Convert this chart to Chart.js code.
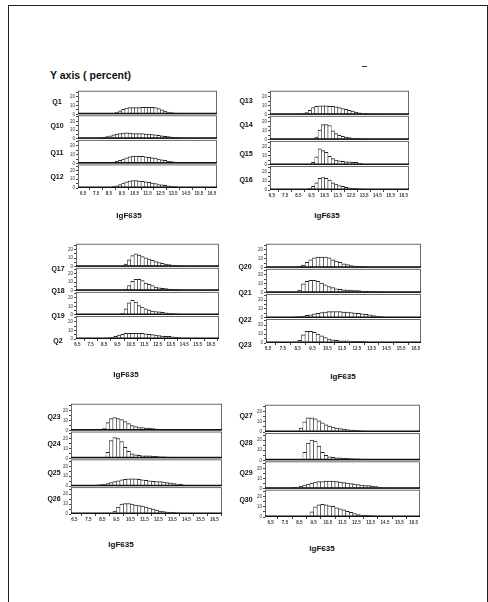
<!DOCTYPE html>
<html>
<head>
<meta charset="utf-8">
<script src="https://cdn.jsdelivr.net/npm/chart.js@4.4.1/dist/chart.umd.min.js"></script>
<style>
  html, body { margin: 0; padding: 0; background: #fff; }
  #page { position: relative; width: 488px; height: 602px; overflow: hidden; font-family: "Liberation Sans", Arial, sans-serif; color: #111; }
  #frame { position: absolute; left: 8px; top: 5px; width: 478px; height: 620px; border: 1px solid #222; border-bottom: none; }
  canvas { position: absolute; }
  .lbl { position: absolute; font-weight: bold; font-size: 7px; transform: translate(-50%, -50%); white-space: nowrap; }
  .xt { position: absolute; font-weight: bold; font-size: 8px; transform: translate(-50%, -50%); white-space: nowrap; }
  #title { position: absolute; left: 50px; top: 69px; font-weight: bold; font-size: 10.5px; white-space: nowrap; }
  #dash { position: absolute; left: 362px; top: 66px; width: 5px; height: 1px; background: #333; }
</style>
</head>
<body>
<div id="page">
  <div id="frame"></div>
  <div id="title">Y axis ( percent)</div>
  <div id="dash"></div>
</div>
<script>
// ===== Data =====

// histogram bin centres (bin width 0.25)
const bins = [6.125, 6.375, 6.625, 6.875, 7.125, 7.375, 7.625, 7.875, 8.125, 8.375, 8.625, 8.875,
  9.125, 9.375, 9.625, 9.875, 10.125, 10.375, 10.625, 10.875, 11.125, 11.375, 11.625, 11.875,
  12.125, 12.375, 12.625, 12.875, 13.125, 13.375, 13.625, 13.875, 14.125, 14.375, 14.625, 14.875,
  15.125, 15.375, 15.625, 15.875, 16.125, 16.375, 16.625, 16.875];

const xTicks = [6.5, 7.5, 8.5, 9.5, 10.5, 11.5, 12.5, 13.5, 14.5, 15.5, 16.5];
const yTicks = [0, 10, 20];

// percent per bin
const q1  = [0,0,0,0.2, 0.3,0.5,0.8,1, 0.8,0.6,0.8,1.2, 2.5,4,5.5,7, 7.5,7.5,7.5,7.5, 8,8,8,8, 7.5,6.5,5,3.5, 2.5,2,1.5,1.2, 1,0.8,0.5,0.4, 0.3,0.2,0.1,0.1, 0,0,0,0];
const q10 = [0,0,0,0, 0.3,0.5,0.8,1.2, 1.8,2.5,3.5,4.5, 5.5,6,6.5,7, 6.5,6,6,6, 6,5.5,5.5,5, 4.5,4,3.5,3, 2.5,2,1.5,1.2, 1,0.6,0.4,0.2, 0.1,0.1,0,0, 0,0,0,0];
const q11 = [0,0,0,0, 0,0,0.1,0.2, 0.3,0.4,0.8,1.5, 2.5,3.5,5,6.5, 7.5,8.5,8.5,8, 8,7.5,7,6.5, 6,5,4,3.5, 2.5,2,1.5,1.2, 0.8,0.5,0.3,0.2, 0.1,0,0,0, 0,0,0,0];
const q12 = [0,0,0,0, 0,0,0,0.1, 0.2,0.4,0.8,1.5, 2.5,4,5.5,7, 8,8.5,8.5,8, 7.5,7,6.5,5.5, 5,4,3.5,3, 2.5,2,1.5,1, 0.8,0.5,0.3,0.2, 0.1,0.1,0,0, 0,0,0,0];

const q13 = [0,0,0,0, 0,0,0,0, 0,0.2,0.5,1, 2.5,5,8,9.5, 10,10,10,9.5, 9.5,9,8,7, 6,5,4,3, 2.2,1.6,1.2,0.8, 0.6,0.4,0.2,0.1, 0.1,0,0,0, 0,0,0,0];
const q14 = [0,0,0,0, 0,0,0,0, 0,0,0,0, 0,0.2,0.8,3, 11,17,17,16, 10,7,5,4, 3,2.5,2,1.5, 1.2,1,0.8,0.6, 0.4,0.3,0.2,0.1, 0.1,0,0,0, 0,0,0,0];
const q15 = [0,0,0,0, 0,0,0,0, 0,0,0,0, 0.3,1,3,9, 18,16,14,9.5, 7,5.5,4.5,4, 3.5,3.5,3,3, 2,1.2,0.8,0.6, 0.4,0.3,0.2,0.1, 0.1,0,0,0, 0,0,0,0];
const q16 = [0,0,0,0, 0,0,0,0, 0,0,0,0, 0.5,1.5,4,8, 13,14,13,11, 8,6.5,5,4, 3,2.5,2,1.5, 1.2,1,0.8,0.5, 0.4,0.2,0.1,0.1, 0,0,0,0, 0,0,0,0];

const q17 = [0,0,0,0, 0,0,0,0, 0,0,0,0, 0,0,0.2,0.8, 3,8,13,15, 13.5,12,10.5,9, 7.5,6,5,4, 3,2.5,2,1.5, 1,0.7,0.4,0.2, 0.1,0.1,0,0, 0,0,0,0];
const q18 = [0,0,0,0, 0,0,0,0, 0,0,0,0, 0,0,0.1,0.5, 2,6,11,13.5, 13.5,12,9,7.5, 6,4.5,3.5,3, 2.5,2,1.8,1.5, 1.2,1,0.8,0.6, 0.5,0.4,0.3,0.2, 0.1,0,0,0];
const q19 = [0,0,0,0, 0,0,0,0, 0,0,0,0, 0,0,0.5,2, 7,14,17,15, 11,9,7,5.5, 4.5,4,3.5,3, 2.5,2,1.5,1.2, 1,0.8,0.5,0.3, 0.2,0.1,0,0, 0,0,0,0];
const q2  = [0,0,0,0, 0,0,0,0, 0.3,0.5,1,1.5, 2,3,4.5,5.5, 6.5,6.5,6.5,6.5, 6.5,6.5,6,5.5, 5,4.5,4,3.5, 3,3,2.5,2, 1.5,1.2,1,0.8, 0.6,0.4,0.2,0.1, 0,0,0,0];

const q20 = [0,0,0,0, 0,0,0,0, 0,0.5,1.5,3, 6,9,11,12, 12,12,11,9, 7.5,6,4.5,3.5, 2.5,2,1.5,1.2, 1,0.8,0.5,0.3, 0.2,0.1,0,0, 0,0,0,0, 0,0,0,0];
const q21 = [0.3,0.3,0.3,0.3, 0.3,0.3,0.3,0.3, 0.3,0.5,3,10, 13,14,14,13, 11,9,7,6, 4.5,4,3.5,3, 3,2.5,2.5,2, 1.8,1.5,1.2,1, 0.8,0.5,0.3,0.2, 0.1,0,0,0, 0,0,0,0];
const q22 = [0,0,0,0, 0.2,0.3,0.5,0.8, 1,1.2,1.5,2, 3,3.5,4.5,5, 6,6.5,7,7, 7,7,6.5,6.5, 6,5.5,5,4.5, 4,3.5,2.5,2, 1.5,1,0.8,0.5, 0.4,0.2,0.1,0, 0,0,0,0];
const q23a = [0,0,0,0, 0,0,0,0, 0,0.5,3,9, 13,13,12,10, 8,6,4.5,3.5, 3,2.5,2.5,2.5, 2,2,1.5,1.5, 1.2,1,0.8,0.5, 0.3,0.2,0.1,0, 0,0,0,0, 0,0,0,0];

const q23b = [0,0,0,0, 0,0,0,0, 0,0.3,2,8, 12,13,12,11, 9,7,5,4, 3,3,2.5,2.5, 2,1.5,1.2,1.2, 1,1,0.8,0.5, 0.4,0.2,0.1,0, 0,0,0,0, 0,0,0,0];
const q24 = [0,0.3,0.3,0.3, 0.2,0,0,0, 0,0,0.5,6, 18,21,20,17, 11,7,4.5,3.5, 3,2.5,2.5,2.5, 2,2,1.5,1.5, 1.2,1,0.8,0.6, 0.4,0.2,0.1,0, 0,0,0,0, 0,0,0,0];
const q25 = [0,0,0,0, 0,0.2,0.5,0.8, 1,1.5,2,2.5, 3.5,4.5,5.5,6.5, 7,7.5,7.5,7.5, 7,6.5,6,5.5, 5,4.5,4.5,4, 3.5,3,2.5,2, 1.8,1.2,0.8,0.5, 0.3,0.2,0.1,0, 0,0,0,0];
const q26 = [0,0,0,0, 0,0,0,0, 0,0,0,0.2, 0.5,3,7,10, 10.5,10.5,10,9, 8.5,8,7,6, 5,4,3,2.5, 2,1.8,1.5,1.2, 1,0.8,0.5,0.3, 0.2,0.1,0,0, 0,0,0,0];

const q27 = [0,0,0,0, 0,0,0,0, 0,0.5,4,10, 14,14,13,11, 9,7,6,5, 4,3.5,3,2.5, 2,2,1.5,1.2, 1,0.8,0.6,0.4, 0.3,0.1,0,0, 0,0,0,0, 0,0,0,0];
const q28 = [0,0,0,0, 0,0,0,0, 0,0,1,8, 17,20,19,14, 8,5,3.5,3, 2.5,2.5,2,2, 1.8,1.5,1.5,1.2, 1,1,0.6,0.4, 0.2,0.1,0,0, 0,0,0,0, 0,0,0,0];
const q29 = [0,0,0,0, 0,0,0.3,0.5, 1,1.5,2.5,3.5, 4.5,5.5,6.5,7, 7,7.5,7.5,7.5, 7,6.5,6,5.5, 5,4.5,4,3.5, 3,3,2.5,2, 1.2,0.8,0.5,0.3, 0.2,0.1,0,0, 0,0,0,0];
const q30 = [0,0,0,0, 0,0,0,0, 0,0,0,0, 0.5,5,10,12, 12.5,12,11,10.5, 9,8,7,5.5, 4.5,3.5,2.5,2, 1.8,1.5,1.2,1, 0.8,0.5,0.3,0.2, 0.1,0,0,0, 0,0,0,0];

const axisTitle = "IgF635";

// each block: panel names top to bottom, series, plot box on the page, x range, label spots
const blocks = [
  { names: ["Q1", "Q10", "Q11", "Q12"], series: [q1, q10, q11, q12],
    box: [78, 87, 217, 188], xr: [6.1, 16.9], lx: 57, ly: [101, 125, 152, 176], tx: [129, 215] },
  { names: ["Q13", "Q14", "Q15", "Q16"], series: [q13, q14, q15, q16],
    box: [270, 87, 409, 190], xr: [6.35, 16.9], lx: 246, ly: [100, 124, 153, 179], tx: [327, 215] },
  { names: ["Q17", "Q18", "Q19", "Q2"], series: [q17, q18, q19, q2],
    box: [76, 240, 219, 339], xr: [6.4, 17.1], lx: 58, ly: [268, 290, 315, 340], tx: [126, 374] },
  { names: ["Q20", "Q21", "Q22", "Q23"], series: [q20, q21, q22, q23a],
    box: [266, 240, 421, 343], xr: [6.35, 16.85], lx: 245, ly: [266, 292, 319, 344], tx: [343, 376] },
  { names: ["Q23", "Q24", "Q25", "Q26"], series: [q23b, q24, q25, q26],
    box: [71, 400, 222, 514], xr: [6.25, 17.05], lx: 54, ly: [416, 443, 472, 498], tx: [121, 544] },
  { names: ["Q27", "Q28", "Q29", "Q30"], series: [q27, q28, q29, q30],
    box: [265, 401, 420, 517], xr: [6.1, 16.95], lx: 246, ly: [415, 442, 472, 499], tx: [322, 548] }
];

// ===== Drawing =====

const page = document.getElementById("page");
const FONT = "'Liberation Sans', Arial, sans-serif";
const YAXIS_W = 14;
const XAXIS_H = 10;

// outline each stacked panel and put a heavier baseline under it
const panelBoxes = {
  id: "panelBoxes",
  afterDatasetsDraw(chart) {
    const { ctx, chartArea } = chart;
    ctx.save();
    Object.values(chart.scales).filter(s => s.axis === "y").forEach(s => {
      ctx.strokeStyle = "#444";
      ctx.lineWidth = 0.8;
      ctx.strokeRect(chartArea.left + 0.5, s.top + 1.5, chartArea.right - chartArea.left - 1, s.bottom - s.top - 2);
      ctx.strokeStyle = "#111";
      ctx.lineWidth = 1.5;
      ctx.beginPath();
      ctx.moveTo(chartArea.left, s.bottom - 0.75);
      ctx.lineTo(chartArea.right, s.bottom - 0.75);
      ctx.stroke();
    });
    ctx.restore();
  }
};

function addText(cls, text, x, y) {
  const d = document.createElement("div");
  d.className = cls;
  d.textContent = text;
  d.style.left = x + "px";
  d.style.top = y + "px";
  page.appendChild(d);
}

blocks.forEach((b, bi) => {
  const [l, t, r, btm] = b.box;
  const cv = document.createElement("canvas");
  cv.width = (r - l) + YAXIS_W + 1;
  cv.height = (btm - t) + XAXIS_H + 1;
  cv.style.left = (l - YAXIS_W) + "px";
  cv.style.top = (t - 1) + "px";
  page.appendChild(cv);

  const scales = {
    x: {
      type: "linear", min: b.xr[0], max: b.xr[1], offset: false,
      afterBuildTicks: s => { s.ticks = xTicks.map(v => ({ value: v })); },
      afterFit: s => { s.height = XAXIS_H; },
      ticks: { autoSkip: false, maxRotation: 0, padding: 1, color: "#333",
        font: { size: 4.5, family: FONT, weight: "bold" }, callback: v => v.toFixed(1) },
      grid: { drawOnChartArea: false, tickLength: 2, color: "#444" },
      border: { display: false }
    }
  };
  b.names.forEach((n, i) => {
    scales["y" + i] = {
      type: "linear", position: "left", stack: "g" + bi, stackWeight: 1, weight: 4 - i,
      min: 0, max: 28,
      afterFit: s => { s.width = YAXIS_W; },
      afterBuildTicks: s => { s.ticks = [0, 5, 10, 15, 20, 25].map(v => ({ value: v })); },
      ticks: { autoSkip: false, padding: 1, color: "#333",
        font: { size: 4.5, family: FONT },
        callback: v => yTicks.includes(v) ? String(v) : "" },
      grid: { drawOnChartArea: false, tickLength: 2, color: "#444" },
      border: { display: false }
    };
  });

  new Chart(cv.getContext("2d"), {
    type: "bar",
    data: {
      datasets: b.series.map((vals, i) => ({
        label: b.names[i],
        yAxisID: "y" + i,
        data: vals.map((v, k) => ({ x: bins[k], y: v })),
        grouped: false,
        barPercentage: 1,
        categoryPercentage: 1,
        backgroundColor: "#fff",
        borderColor: "#222",
        borderWidth: { top: 1, left: 0.6, right: 0.6, bottom: 0 },
        borderSkipped: "start"
      }))
    },
    options: {
      responsive: false,
      animation: false,
      devicePixelRatio: 1,
      layout: { padding: { left: 0, right: 1, top: 1, bottom: 0 } },
      plugins: { legend: { display: false }, tooltip: { enabled: false } },
      scales
    },
    plugins: [panelBoxes]
  });

  b.names.forEach((n, i) => addText("lbl", n, b.lx, b.ly[i]));
  addText("xt", axisTitle, b.tx[0], b.tx[1]);
});
</script>
</body>
</html>
